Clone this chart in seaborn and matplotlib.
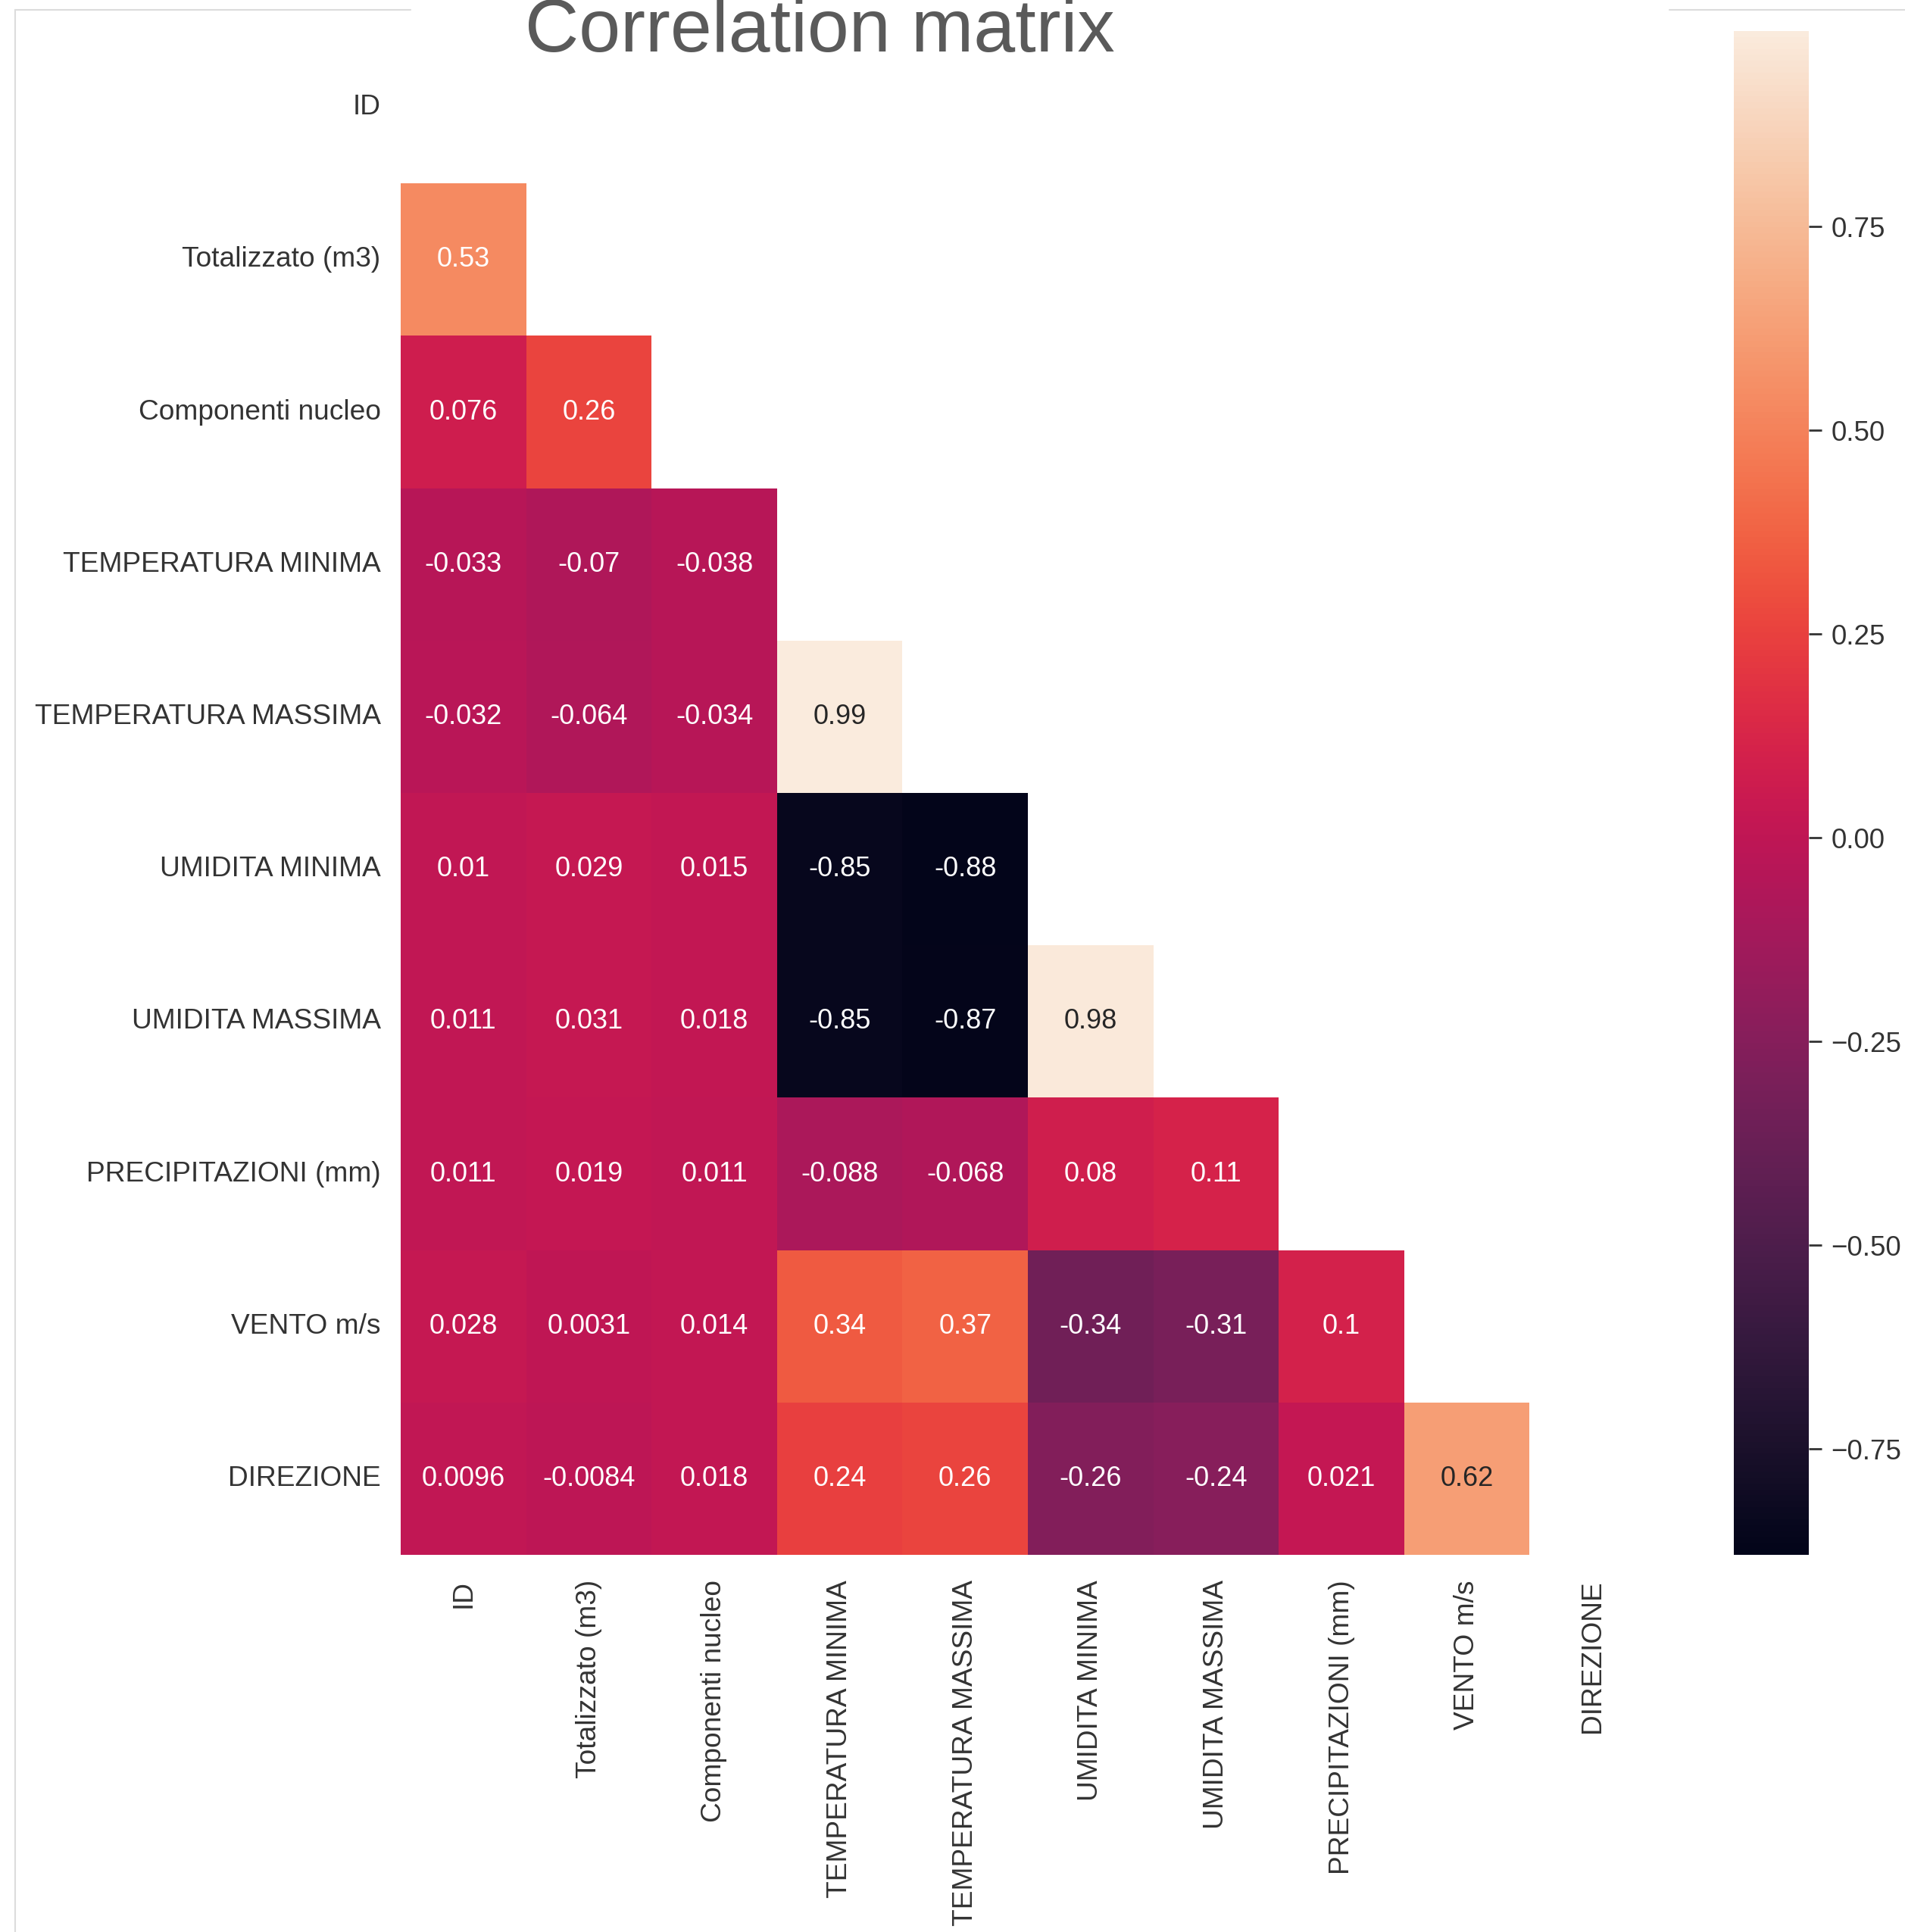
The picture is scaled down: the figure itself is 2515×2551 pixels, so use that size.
import numpy as np
import pandas as pd
import matplotlib
matplotlib.use("Agg")
import matplotlib.pyplot as plt
from matplotlib.lines import Line2D
import seaborn as sns

# ---- data (lower triangle of the correlation matrix) ----
labels = ["ID", "Totalizzato (m3)", "Componenti nucleo", "TEMPERATURA MINIMA",
          "TEMPERATURA MASSIMA", "UMIDITA MINIMA", "UMIDITA MASSIMA",
          "PRECIPITAZIONI (mm)", "VENTO m/s", "DIREZIONE"]
row_totalizzato = [0.53]
row_componenti = [0.076, 0.26]
row_temp_min = [-0.033, -0.07, -0.038]
row_temp_max = [-0.032, -0.064, -0.034, 0.99]
row_umid_min = [0.01, 0.029, 0.015, -0.85, -0.88]
row_umid_max = [0.011, 0.031, 0.018, -0.85, -0.87, 0.98]
row_precip = [0.011, 0.019, 0.011, -0.088, -0.068, 0.08, 0.11]
row_vento = [0.028, 0.0031, 0.014, 0.34, 0.37, -0.34, -0.31, 0.1]
row_direzione = [0.0096, -0.0084, 0.018, 0.24, 0.26, -0.26, -0.24, 0.021, 0.62]
cbar_ticks = [-0.75, -0.5, -0.25, 0.0, 0.25, 0.5, 0.75]

lower_rows = [[], row_totalizzato, row_componenti, row_temp_min, row_temp_max,
              row_umid_min, row_umid_max, row_precip, row_vento, row_direzione]
n = len(labels)
corr = np.eye(n)
for i, row in enumerate(lower_rows):
    for j, v in enumerate(row):
        corr[i, j] = v
        corr[j, i] = v
df = pd.DataFrame(corr, index=labels, columns=labels)
mask = np.triu(np.ones_like(corr, dtype=bool))

# ---- style ----
sns.set_theme(style="white")
plt.rcParams["font.family"] = ["Liberation Sans", "DejaVu Sans"]

W, H = 2515, 2551
fig = plt.figure(figsize=(W / 100, H / 100), dpi=100)
fig.patch.set_facecolor("white")

def fx(px):
    return px / W

def fy(py):
    return 1 - py / H

ax_l, ax_r, ax_t, ax_b = 529, 2185, 41, 2053
ax = fig.add_axes([fx(ax_l), fy(ax_b), fx(ax_r - ax_l), (ax_b - ax_t) / H])
cax = fig.add_axes([fx(2289), fy(ax_b), fx(2388 - 2289), (ax_b - ax_t) / H])

sns.heatmap(df, mask=mask, annot=True, ax=ax, cbar_ax=cax,
            annot_kws={"fontsize": 26})

ax.set_xticklabels(labels, rotation=90, fontsize=26.7, color="#333333")
ax.set_yticklabels(labels, rotation=0, fontsize=26.7, color="#333333")
ax.tick_params(axis="x", length=0, pad=24)
ax.tick_params(axis="y", length=0, pad=19)
ax.set_xlabel("")
ax.set_ylabel("")

cax.set_yticks(cbar_ticks)
cax.tick_params(axis="y", labelsize=26.5, length=12, width=2, pad=9,
                colors="#333333")

fig.text(fx(1082), fy(68), "Correlation matrix", fontsize=71,
         color="#5a5a5a", ha="center", va="baseline")

# light frame of the screenshot
frame_c = "#dcdcdc"
fig.add_artist(Line2D([fx(20), fx(20)], [fy(13), 0], color=frame_c, lw=1.5,
                      transform=fig.transFigure))
fig.add_artist(Line2D([fx(20), fx(542)], [fy(13), fy(13)], color=frame_c, lw=1.5,
                      transform=fig.transFigure))
fig.add_artist(Line2D([fx(2204), 1], [fy(13), fy(13)], color=frame_c, lw=1.5,
                      transform=fig.transFigure))

fig.savefig("out.png", dpi=100, facecolor="white")
